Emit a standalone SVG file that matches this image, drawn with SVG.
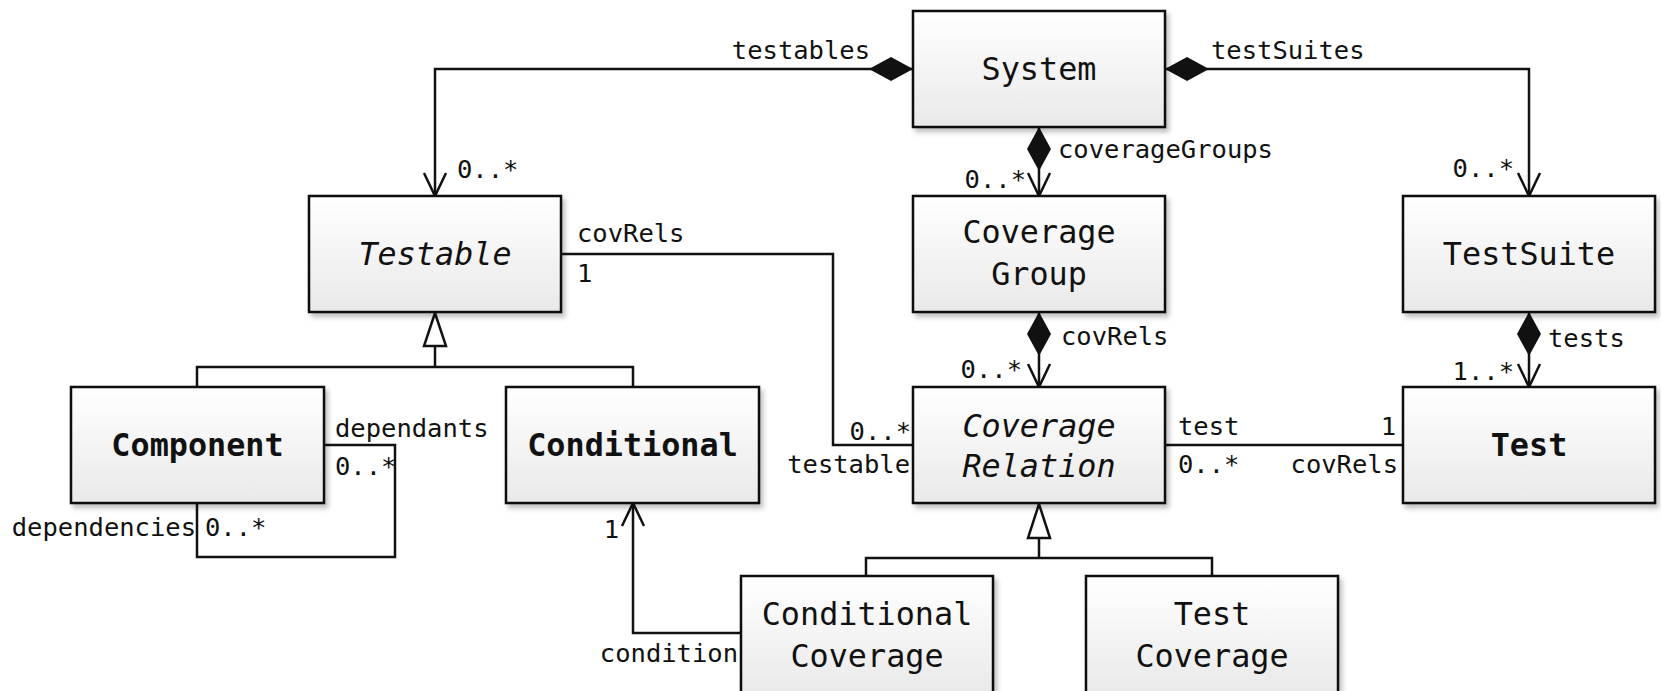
<svg xmlns="http://www.w3.org/2000/svg" width="1661" height="691" viewBox="0 0 1661 691">
<style>
.box{fill:url(#g);stroke:#111;stroke-width:2.5;filter:url(#sh)}
.n{font-family:"DejaVu Sans Mono","Liberation Mono",monospace;font-size:31.8px;fill:#111;text-anchor:middle}
.b{font-weight:bold}
.i{font-style:italic}
.l{font-family:"DejaVu Sans Mono","Liberation Mono",monospace;font-size:25.5px;fill:#111}
.e{text-anchor:end}
.c{fill:none;stroke:#111;stroke-width:2.5}
.tri{fill:#fff;stroke:#111;stroke-width:2.5}
</style>
<defs>
<linearGradient id="g" x1="0" y1="0" x2="0" y2="1"><stop offset="0" stop-color="#ffffff"/><stop offset="1" stop-color="#e9e9e9"/></linearGradient>
<filter id="sh" x="-10%" y="-10%" width="130%" height="140%"><feDropShadow dx="3" dy="4" stdDeviation="2.5" flood-color="#000" flood-opacity="0.25"/></filter>
<marker id="dia" markerUnits="userSpaceOnUse" markerWidth="48" markerHeight="28" viewBox="-2 -14 48 28" refX="0" refY="0" orient="auto" overflow="visible"><path d="M0,0 L22,-12 L44,0 L22,12 Z" fill="#111"/></marker>
<marker id="arr" markerUnits="userSpaceOnUse" markerWidth="30" markerHeight="28" viewBox="-26 -14 30 28" refX="0" refY="0" orient="auto" overflow="visible"><path d="M-23,-11 L0,0 L-23,11" fill="none" stroke="#111" stroke-width="2.5"/></marker>
</defs>

<g id="connectors">
<path class="c" d="M913,69 L435,69 L435,196" marker-start="url(#dia)" marker-end="url(#arr)"/>
<path class="c" d="M1165,69 L1529,69 L1529,196" marker-start="url(#dia)" marker-end="url(#arr)"/>
<path class="c" d="M1039,127 L1039,196" marker-start="url(#dia)" marker-end="url(#arr)"/>
<path class="c" d="M1039,312 L1039,387" marker-start="url(#dia)" marker-end="url(#arr)"/>
<path class="c" d="M1529,312 L1529,387" marker-start="url(#dia)" marker-end="url(#arr)"/>
<path class="c" d="M561,254 L833,254 L833,445 L913,445"/>
<path class="c" d="M1165,445 L1403,445"/>
<path class="c" d="M741,633 L633,633 L633,503" marker-end="url(#arr)"/>
<path class="c" d="M324,445 L395,445 L395,557 L197,557 L197,503"/>
<path class="c" d="M197,387 L197,367 L633,367 L633,387 M435,367 L435,346"/>
<polygon class="tri" points="435,313 424,346 446,346"/>
<path class="c" d="M866,576 L866,558 L1212,558 L1212,576 M1039,558 L1039,538"/>
<polygon class="tri" points="1039,504 1028,538 1050,538"/>
<text class="l e" x="870" y="59">testables</text>
<text class="l" x="457" y="178">0..*</text>
<text class="l" x="1211" y="59">testSuites</text>
<text class="l e" x="1514" y="177">0..*</text>
<text class="l" x="1058" y="158">coverageGroups</text>
<text class="l e" x="1026" y="188">0..*</text>
<text class="l" x="1061" y="345">covRels</text>
<text class="l e" x="1022" y="378">0..*</text>
<text class="l" x="1548" y="347">tests</text>
<text class="l e" x="1514" y="380">1..*</text>
<text class="l" x="577" y="242">covRels</text>
<text class="l" x="577" y="282">1</text>
<text class="l e" x="911" y="440">0..*</text>
<text class="l e" x="910" y="473">testable</text>
<text class="l" x="1178" y="435">test</text>
<text class="l e" x="1396" y="435">1</text>
<text class="l" x="1178" y="473">0..*</text>
<text class="l e" x="1398" y="473">covRels</text>
<text class="l" x="335" y="437">dependants</text>
<text class="l" x="335" y="475">0..*</text>
<text class="l e" x="196" y="536">dependencies</text>
<text class="l" x="205" y="536">0..*</text>
<text class="l e" x="619" y="538">1</text>
<text class="l e" x="738" y="662">condition</text>
</g>

<g id="System"><rect class="box" x="913" y="11" width="252" height="116"/><text class="n" x="1039" y="80">System</text></g>
<g id="Testable"><rect class="box" x="309" y="196" width="252" height="116"/><text class="n i" x="435" y="265">Testable</text></g>
<g id="CoverageGroup"><rect class="box" x="913" y="196" width="252" height="116"/><text class="n" x="1039" y="243">Coverage</text><text class="n" x="1039" y="285">Group</text></g>
<g id="TestSuite"><rect class="box" x="1403" y="196" width="252" height="116"/><text class="n" x="1529" y="265">TestSuite</text></g>
<g id="Component"><rect class="box" x="71" y="387" width="253" height="116"/><text class="n b" x="197.5" y="456">Component</text></g>
<g id="Conditional"><rect class="box" x="506" y="387" width="253" height="116"/><text class="n b" x="632.5" y="456">Conditional</text></g>
<g id="CoverageRelation"><rect class="box" x="913" y="387" width="252" height="116"/><text class="n i" x="1039" y="437">Coverage</text><text class="n i" x="1039" y="477">Relation</text></g>
<g id="Test"><rect class="box" x="1403" y="387" width="252" height="116"/><text class="n b" x="1529" y="456">Test</text></g>
<g id="ConditionalCoverage"><rect class="box" x="741" y="576" width="252" height="118"/><text class="n" x="867" y="625">Conditional</text><text class="n" x="867" y="667">Coverage</text></g>
<g id="TestCoverage"><rect class="box" x="1086" y="576" width="252" height="118"/><text class="n" x="1212" y="625">Test</text><text class="n" x="1212" y="667">Coverage</text></g>
</svg>
